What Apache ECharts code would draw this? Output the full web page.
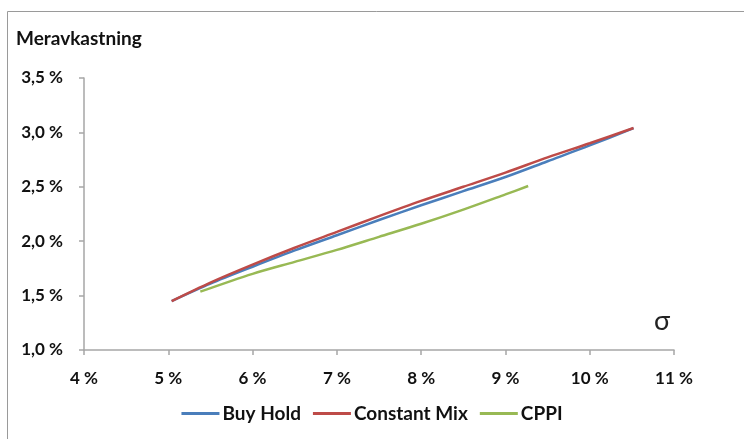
<!DOCTYPE html>
<html>
<head>
<meta charset="utf-8">
<script src="https://cdn.jsdelivr.net/npm/echarts@6/dist/echarts.min.js"></script>
<style>
  html, body { margin: 0; padding: 0; background: #fff; }
  #chart { width: 744px; height: 439px; }
</style>
</head>
<body>
<div id="chart"></div>
<script>
// Standard deviation (σ, %) against excess return (%) for three strategies
const seriesNames = ['Buy Hold', 'Constant Mix', 'CPPI'];

const buyHoldSigma  = [5.04, 5.5, 6.0, 6.5, 7.0, 7.5, 8.0, 8.5, 9.0, 9.5, 10.0, 10.52];
const buyHoldReturn = [1.45, 1.61, 1.765, 1.915, 2.055, 2.195, 2.33, 2.46, 2.59, 2.735, 2.88, 3.04];

const constMixSigma  = [5.04, 5.5, 6.0, 6.5, 7.0, 7.5, 8.0, 8.5, 9.0, 9.5, 10.0, 10.52];
const constMixReturn = [1.45, 1.62, 1.785, 1.94, 2.085, 2.23, 2.37, 2.50, 2.63, 2.77, 2.90, 3.04];

const cppiSigma  = [5.38, 6.0, 6.5, 7.0, 7.5, 8.0, 8.5, 9.0, 9.27];
const cppiReturn = [1.536, 1.70, 1.81, 1.92, 2.04, 2.16, 2.29, 2.43, 2.507];

const xTicks = [4, 5, 6, 7, 8, 9, 10, 11];
const yTicks = [1.0, 1.5, 2.0, 2.5, 3.0, 3.5];

const colors = ['#4a7ebb', '#be4b48', '#98b954'];
const font = 'Lato, "Open Sans", sans-serif';

function pairs(xs, ys) { return xs.map((x, i) => [x, ys[i]]); }

const chart = echarts.init(document.getElementById('chart'), null, { renderer: 'canvas' });

chart.setOption({
  animation: false,
  backgroundColor: '#fff',
  color: colors,
  graphic: [
    {
      type: 'rect',
      shape: { x: 7.5, y: 11.5, width: 900, height: 600 },
      style: { fill: 'none', stroke: '#9a9a9a', lineWidth: 1 },
      silent: true
    },
    {
      type: 'text',
      left: 16, top: 29,
      style: { text: 'Meravkastning', font: 'bold 19px ' + font, fill: '#111' }
    },
    {
      type: 'text',
      left: 654, top: 308,
      style: { text: 'σ', font: '27px ' + font, fill: '#222' }
    }
  ],
  grid: { left: 84, right: 70, top: 78, bottom: 89, containLabel: false },
  legend: {
    bottom: 11,
    left: 'center',
    itemWidth: 38,
    itemHeight: 3,
    itemGap: 12,
    icon: 'rect',
    textStyle: { fontFamily: font, fontWeight: 'bold', fontSize: 19, color: '#111', padding: [0, 0, 0, -2] },
    data: seriesNames
  },
  xAxis: {
    type: 'value',
    min: xTicks[0],
    max: xTicks[xTicks.length - 1],
    interval: 1,
    axisLine: { show: true, lineStyle: { color: '#a6a6a6', width: 1.5 } },
    axisTick: { show: true, length: 5, lineStyle: { color: '#a6a6a6', width: 1.5 } },
    splitLine: { show: false },
    axisLabel: {
      margin: 20,
      fontFamily: font, fontWeight: 'bold', fontSize: 17, color: '#111',
      formatter: v => v + ' %'
    }
  },
  yAxis: {
    type: 'value',
    min: yTicks[0],
    max: yTicks[yTicks.length - 1],
    interval: 0.5,
    axisLine: { show: true, lineStyle: { color: '#a6a6a6', width: 1.5 } },
    axisTick: { show: true, length: 5, lineStyle: { color: '#a6a6a6', width: 1.5 } },
    splitLine: { show: false },
    axisLabel: {
      margin: 21,
      fontFamily: font, fontWeight: 'bold', fontSize: 17, color: '#111',
      formatter: v => v.toFixed(1).replace('.', ',') + ' %'
    }
  },
  series: [
    {
      name: seriesNames[0], type: 'line', showSymbol: false, smooth: 0.3,
      lineStyle: { width: 2.5, color: colors[0] },
      data: pairs(buyHoldSigma, buyHoldReturn), z: 2
    },
    {
      name: seriesNames[1], type: 'line', showSymbol: false, smooth: 0.3,
      lineStyle: { width: 2.5, color: colors[1] },
      data: pairs(constMixSigma, constMixReturn), z: 3
    },
    {
      name: seriesNames[2], type: 'line', showSymbol: false, smooth: 0.3,
      lineStyle: { width: 2.5, color: colors[2] },
      data: pairs(cppiSigma, cppiReturn), z: 2
    }
  ]
});
</script>
</body>
</html>
